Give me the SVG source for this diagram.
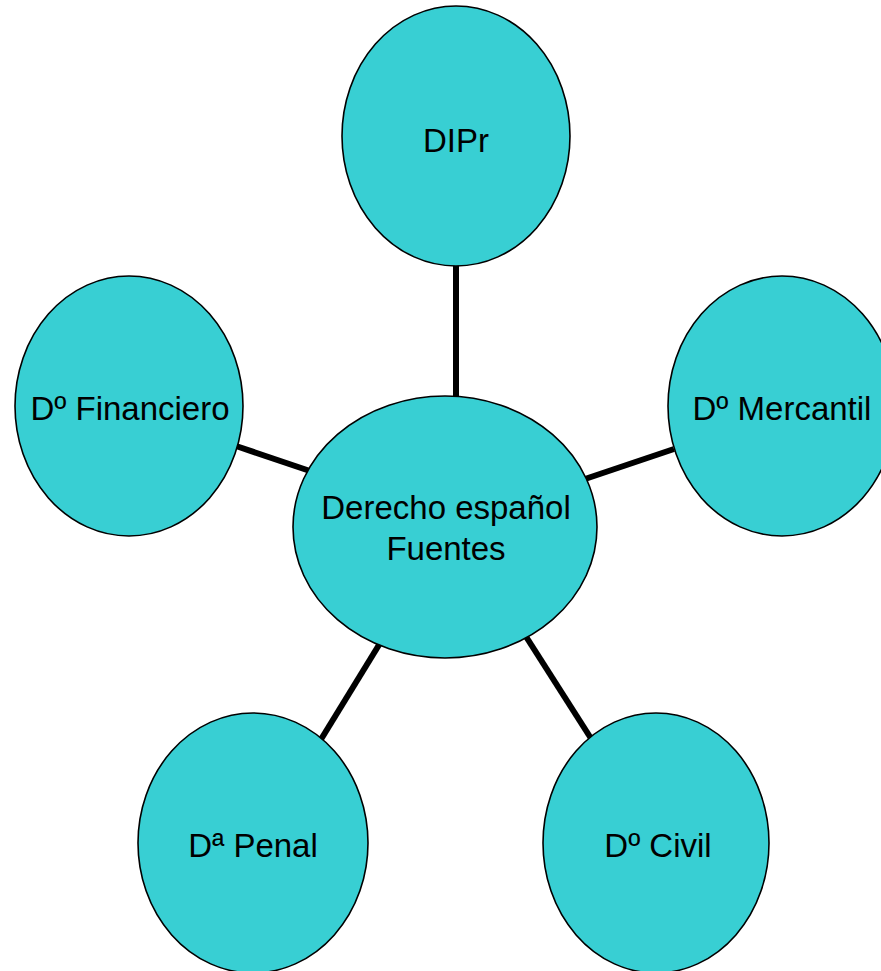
<svg xmlns="http://www.w3.org/2000/svg" width="881" height="971" viewBox="0 0 881 971">
<style>
.node ellipse{fill:#38CFD3;stroke:#000;stroke-width:1.6}
.node text{font-family:"Liberation Sans",Arial,sans-serif;font-size:33px;fill:#000;text-anchor:middle}
.conn line{stroke:#000;stroke-width:6}
</style>
<rect width="881" height="971" fill="#fff"/>
<g id="connectors" class="conn">
<line x1="456" y1="262" x2="456" y2="400"/>
<line x1="236" y1="446" x2="310" y2="471"/>
<line x1="585" y1="479" x2="674" y2="449"/>
<line x1="382" y1="640" x2="320" y2="741"/>
<line x1="525" y1="635" x2="592" y2="740"/>
</g>
<g id="dipr" class="node">
<ellipse cx="456" cy="136" rx="114" ry="130"/>
<text x="456" y="152">DIPr</text>
</g>
<g id="mercantil" class="node">
<ellipse cx="782" cy="406" rx="114" ry="130"/>
<text x="782" y="420">Dº Mercantil</text>
</g>
<g id="financiero" class="node">
<ellipse cx="129" cy="406" rx="114" ry="130"/>
<text x="130" y="420">Dº Financiero</text>
</g>
<g id="penal" class="node">
<ellipse cx="253" cy="843" rx="115" ry="130"/>
<text x="253" y="857">Dª Penal</text>
</g>
<g id="civil" class="node">
<ellipse cx="656" cy="843" rx="113" ry="130"/>
<text x="658" y="857">Dº Civil</text>
</g>
<g id="center" class="node">
<ellipse cx="445" cy="527" rx="152" ry="131"/>
<text x="446" y="519">Derecho español</text>
<text x="446" y="560">Fuentes</text>
</g>
</svg>
